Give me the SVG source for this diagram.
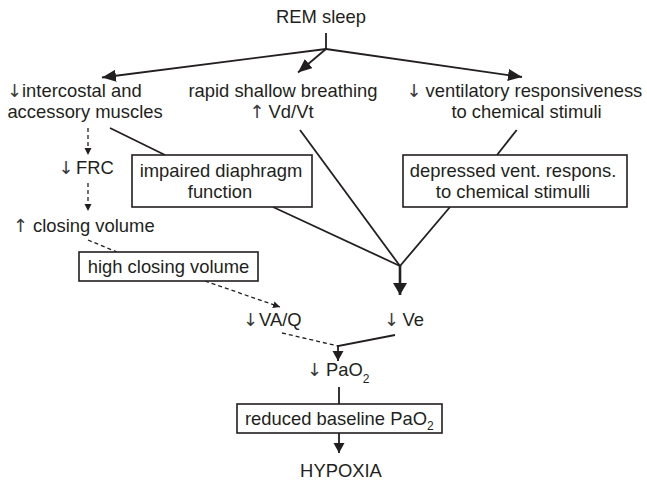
<svg xmlns="http://www.w3.org/2000/svg" width="647" height="483" viewBox="0 0 647 483">
<defs>
<style>
text{font-family:"Liberation Sans",Arial,sans-serif;font-size:18.4px;fill:#231f20}
.ar{text-anchor:middle;font-family:"DejaVu Sans ExtraLight","DejaVu Sans",sans-serif;font-size:18px;fill:#3a3a3a}
.mid{text-anchor:middle}
.sub{font-size:12px}
.box{fill:#fff;stroke:#231f20;stroke-width:1.6}
.ln{fill:none;stroke:#231f20;stroke-width:1.8}
.thk{fill:none;stroke:#231f20;stroke-width:2.6}
.ds{fill:none;stroke:#231f20;stroke-width:1.3;stroke-dasharray:4 3}
</style>
<marker id="ah" markerUnits="userSpaceOnUse" markerWidth="15" markerHeight="13" refX="14" refY="6" orient="auto"><path d="M0,0L14,6L0,12z" fill="#231f20"/></marker>
<marker id="ahb" markerUnits="userSpaceOnUse" markerWidth="13" markerHeight="15" refX="12" refY="7" orient="auto"><path d="M0,0L12,7L0,14z" fill="#231f20"/></marker>
<marker id="ahm" markerUnits="userSpaceOnUse" markerWidth="11" markerHeight="12" refX="10" refY="5.5" orient="auto"><path d="M0,0L10,5.5L0,11z" fill="#231f20"/></marker>
<marker id="ahs" markerUnits="userSpaceOnUse" markerWidth="8" markerHeight="8" refX="7" refY="3.5" orient="auto"><path d="M0,0L7,3.5L0,7z" fill="#231f20"/></marker>
</defs>
<g id="connectors">
<line class="ln" x1="326" y1="33" x2="326" y2="49.5"/>
<line class="ln" x1="326" y1="49" x2="102" y2="77.5" marker-end="url(#ah)"/>
<line class="ln" x1="326" y1="49" x2="298" y2="72.5" marker-end="url(#ah)"/>
<line class="ln" x1="326" y1="49" x2="522" y2="77" marker-end="url(#ah)"/>
<line class="ln" x1="110" y1="128" x2="165" y2="155"/>
<line class="ln" x1="273" y1="207" x2="400" y2="266"/>
<line class="ln" x1="300" y1="130" x2="400" y2="266"/>
<line class="ln" x1="516.7" y1="130" x2="497" y2="155"/>
<line class="ln" x1="450" y1="207" x2="400" y2="266"/>
<line class="thk" x1="400" y1="265" x2="400" y2="295" marker-end="url(#ahb)"/>
<line class="ds" x1="88" y1="128" x2="88" y2="155" marker-end="url(#ahs)"/>
<line class="ds" x1="88" y1="183" x2="88" y2="211" marker-end="url(#ahs)"/>
<line class="ds" x1="88" y1="240" x2="117" y2="252"/>
<line class="ds" x1="205" y1="281" x2="280" y2="307" marker-end="url(#ahs)"/>
<line class="ds" x1="282" y1="333" x2="338" y2="346"/>
<polyline class="ln" points="395,335 338,346 338,347"/>
<line class="ln" x1="338" y1="346" x2="338" y2="361" marker-end="url(#ahm)"/>
<line class="ln" x1="339" y1="387" x2="339" y2="404"/>
<line class="ln" x1="339" y1="433" x2="339" y2="453" marker-end="url(#ahm)"/>
</g>
<g id="rem"><text class="mid" x="321" y="22.5">REM sleep</text></g>
<g id="intercostal">
<text class="ar" x="14.5" y="97">↓</text>
<text x="22" y="97">intercostal and</text>
<text x="7.4" y="117.5">accessory muscles</text>
</g>
<g id="rapid">
<text class="mid" x="283" y="97">rapid shallow breathing</text>
<text class="ar" x="257" y="118">↑</text>
<text x="268.6" y="117.5">Vd/Vt</text>
</g>
<g id="ventilatory">
<text class="ar" x="414" y="97">↓</text>
<text x="425.6" y="97">ventilatory responsiveness</text>
<text class="mid" x="526.5" y="117.5">to chemical stimuli</text>
</g>
<g id="frc">
<text class="ar" x="66" y="174.3">↓</text>
<text x="76" y="174.3">FRC</text>
</g>
<g id="closing">
<text class="ar" x="20.5" y="232">↑</text>
<text x="33" y="232">closing volume</text>
</g>
<g id="impaired">
<rect class="box" x="132" y="155" width="180" height="52"/>
<text class="mid" x="221" y="176.7">impaired diaphragm</text>
<text class="mid" x="220" y="198">function</text>
</g>
<g id="depressed">
<rect class="box" x="403" y="155" width="224" height="52"/>
<text class="mid" x="513" y="176.7">depressed vent. respons.</text>
<text class="mid" x="513" y="198">to chemical stimulli</text>
</g>
<g id="highclosing">
<rect class="box" x="79" y="252" width="179" height="29"/>
<text class="mid" x="168.5" y="273">high closing volume</text>
</g>
<g id="vaq">
<text class="ar" x="250.5" y="325.5">↓</text>
<text x="259" y="325.5">VA/Q</text>
</g>
<g id="ve">
<text class="ar" x="391.5" y="325.5">↓</text>
<text x="402.5" y="325.5">Ve</text>
</g>
<g id="pao2">
<text class="ar" x="314.5" y="376">↓</text>
<text x="326" y="376">PaO<tspan class="sub" dy="7">2</tspan></text>
</g>
<g id="reduced">
<rect class="box" x="237" y="404" width="205" height="29"/>
<text x="245" y="425">reduced baseline PaO<tspan class="sub" dy="4.5">2</tspan></text>
</g>
<g id="hypoxia"><text class="mid" x="341" y="477">HYPOXIA</text></g>
</svg>
